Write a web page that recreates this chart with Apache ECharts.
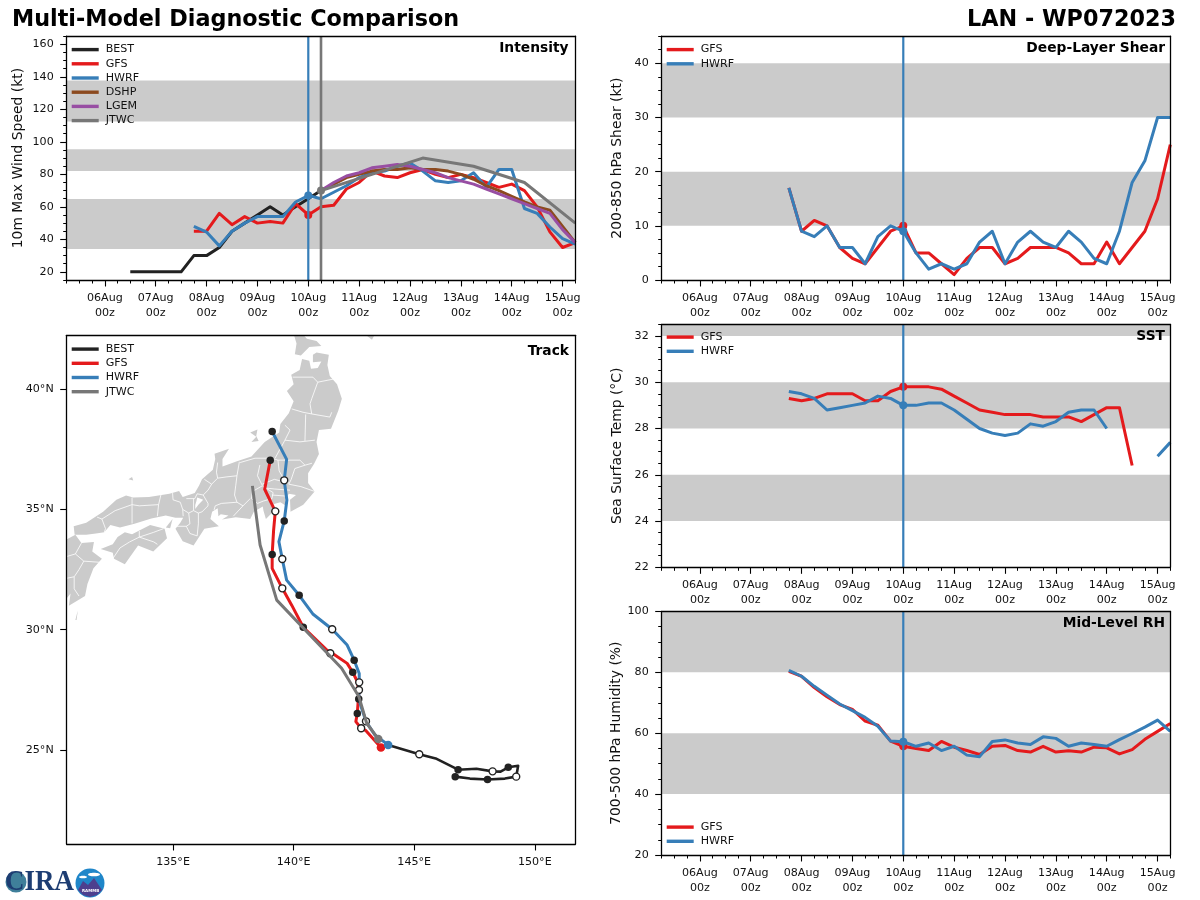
<!DOCTYPE html>
<html>
<head>
<meta charset="utf-8">
<title>Multi-Model Diagnostic Comparison</title>
<script src="https://cdn.jsdelivr.net/npm/echarts@6/dist/echarts.min.js"></script>
<style>
html,body{margin:0;padding:0;background:#fff;}
#main{width:1200px;height:900px;}
</style>
</head>
<body>
<div id="main"></div>
<script>
// hours are counted from 06Aug 00z
var dayTicks = [0,24,48,72,96,120,144,168,192,216];
var dayLabels = ['06Aug','07Aug','08Aug','09Aug','10Aug','11Aug','12Aug','13Aug','14Aug','15Aug'];
var xMin = -18, xMax = 222;
var quarterTicks = [-18,-12,-6,6,12,18,30,36,42,54,60,66,78,84,90,102,108,114,126,132,138,150,156,162,174,180,186,198,204,210,222];

var bestHours = [12,18,24,30,36,42,48,54,60,66,72,78,84,90,96,102];
var bestWind = [20,20,20,20,20,30,30,35,45,50,55,60,55,60,65,70];
// GFS and HWRF run from h42 every 6 hours
var modelHours = [42,48,54,60,66,72,78,84,90,96,102,108,114,120,126,132,138,144,150,156,162,168,174,180,186,192,198,204,210,216,222];
var gfsWind = [45,45,56,49,54,50,51,50,62,55,60,61,71,75,82,79,78,81,83,80,78,80,78,75,72,74,70,60,44.6,35,38];
var hwrfWind = [48,44.5,36,45,50,54,54,54,63,67,65,69,73,78,81,82,85,87,82,76,75,76,81,72,83,83,59,56,47.6,40.5,37];
var statHours = [102,108,114,120,126,132,138,144,150,156,162,168,174,180,186,192,198,204,210,216,222];
var dshpWind = [70,74,78,80,82,83,83,84,83,83,82,80,77,73,70,66.5,63,60,58,48,38];
var lgemWind = [70,75,79,81,84,85,86,85,83,81,78,76,74,71,68,65,62,59,56,46,38];
var jtwcHours = [102,126,150,174,198,222];
var jtwcWind = [70,80,90,85,75,50];

var gfsShear = [17,9,11,10,6,4,3,6,9,10,5,5,3,1,4,6,6,3,4,6,6,6,5,3,3,7,3,6,9,15,25];
var hwrfShear = [17,9,8,10,6,6,3,8,10,9,5,2,3,2,3,7,9,3,7,9,7,6,9,7,4,3,9,18,22,30,30];

var gfsSst = [29.3,29.2,29.3,29.5,29.5,29.5,29.2,29.2,29.6,29.8,29.8,29.8,29.7,29.4,29.1,28.8,28.7,28.6,28.6,28.6,28.5,28.5,28.5,28.3,28.6,28.9,28.9,26.4,null,null,null];
var hwrfSst = [29.6,29.5,29.3,28.8,28.9,29.0,29.1,29.4,29.3,29.0,29.0,29.1,29.1,28.8,28.4,28.0,27.8,27.7,27.8,28.2,28.1,28.3,28.7,28.8,28.8,28.0,null,null,null,26.8,27.4];

var gfsRh = [80.3,78.7,75,72,69.4,67.8,64,62.6,57.4,55.7,55,54.3,57.3,55.4,54.3,53,55.7,56,54.3,53.8,55.7,53.8,54.2,53.8,55.4,55.2,53.2,54.6,58,60.6,63.2];
var hwrfRh = [80.6,78.7,75.4,72.5,69.6,67.4,65.2,62.3,57.4,57.2,55.7,56.8,54.3,55.7,52.8,52.3,57.3,57.8,56.8,56.3,58.8,58.3,55.7,56.8,56.3,55.7,57.9,59.9,62,64.3,60.6];

var windBands = [[34,64.8],[82,95.5],[112.5,137.8]];
var shearBands = [[10,20],[30,40]];
var sstBands = [[24,26],[28,30],[32,34]];
var rhBands = [[40,60],[80,100]];

// tracks, [lon, lat]
var bestTrack = [[146.70,23.89],[147.31,23.81],[148.04,23.77],[148.76,23.81],[149.23,23.89],[149.31,24.34],[148.90,24.28],[148.58,24.10],[148.25,24.11],[147.58,24.22],[146.82,24.18],[145.93,24.63],[145.21,24.82],[143.92,25.21]];
var bestFilled = [[146.70,23.89],[148.04,23.77],[148.90,24.28],[146.82,24.18]];
var bestOpen = [[149.23,23.89],[148.25,24.11],[145.21,24.82]];
var gfsTrack = [[143.62,25.10],[143.0,25.80],[142.80,25.90],[142.58,26.18],[142.64,26.52],[142.71,27.49],[142.61,27.91],[142.45,28.23],[142.22,28.60],[141.71,28.95],[141.52,29.02],[140.40,30.10],[139.92,31.02],[139.53,31.72],[139.11,32.55],[139.11,33.13],[139.17,34.14],[139.24,34.92],[138.80,35.84],[139.03,37.04]];
var gfsFilled = [[142.64,26.52],[142.45,28.23],[140.40,30.10],[139.11,33.13],[139.03,37.04]];
var gfsOpen = [[142.80,25.90],[142.71,27.49],[141.52,29.02],[139.53,31.72],[139.24,34.92]];
var hwrfTrack = [[143.92,25.21],[143.37,25.62],[143.0,26.19],[142.82,26.73],[142.70,27.12],[142.72,27.81],[142.72,28.18],[142.51,28.73],[142.22,29.36],[141.60,30.02],[140.81,30.64],[140.23,31.43],[139.71,32.06],[139.53,32.94],[139.39,33.66],[139.61,34.52],[139.72,35.39],[139.61,36.21],[139.71,37.08],[139.11,38.24]];
var hwrfFilled = [[142.70,27.12],[142.51,28.73],[140.23,31.43],[139.61,34.52],[139.11,38.24]];
var hwrfOpen = [[143.0,26.19],[142.72,27.81],[141.60,30.02],[139.53,32.94],[139.61,36.21]];
var jtwcTrack = [[143.51,25.46],[143.03,26.11],[142.71,27.21],[141.99,28.40],[139.30,31.23],[138.61,33.52],[138.29,35.98]];

// land, [lon, lat]
var honshu = [[139.9,40.6],[140.25,40.8],[140.35,41.25],[140.65,41.18],[140.72,40.85],[141.0,40.88],[141.15,41.15],[140.8,41.12],[140.8,41.43],[140.95,41.52],[141.46,41.43],[141.4,41.0],[141.5,40.55],[141.8,40.2],[142.0,39.6],[141.85,39.1],[141.55,38.35],[141.05,38.3],[140.95,37.8],[141.05,37.3],[140.85,36.9],[140.6,36.5],[140.6,36.1],[140.87,35.75],[140.4,35.2],[139.87,34.9],[139.85,35.4],[140.1,35.6],[139.8,35.65],[139.65,35.4],[139.68,35.15],[139.45,35.3],[139.15,35.22],[139.15,34.9],[138.85,34.6],[138.75,34.95],[138.72,35.12],[138.35,34.9],[138.2,34.6],[137.6,34.67],[137.03,34.58],[137.3,34.75],[136.98,34.8],[136.88,34.72],[136.85,35.05],[136.62,34.9],[136.55,34.6],[136.9,34.3],[136.3,34.2],[135.85,33.5],[135.4,33.68],[135.1,34.2],[135.3,34.45],[135.42,34.65],[135.1,34.65],[134.7,34.75],[134.1,34.62],[133.4,34.4],[132.8,34.25],[132.4,34.35],[132.15,34.05],[131.8,34.0],[131.4,33.95],[130.92,33.95],[130.88,34.3],[131.4,34.45],[132.1,34.9],[132.65,35.4],[133.05,35.58],[133.35,35.5],[134.0,35.52],[134.85,35.65],[135.25,35.77],[135.4,35.52],[135.9,35.68],[136.08,36.0],[136.2,36.25],[136.65,36.65],[136.75,37.1],[136.72,37.32],[137.32,37.52],[137.05,37.1],[137.05,36.78],[137.65,37.0],[138.25,37.2],[138.8,37.8],[139.4,38.2],[139.45,38.55],[139.8,39.0],[140.0,39.5],[139.72,39.92],[140.0,40.2]];
var hokkaido = [[139.7,42.7],[140.0,42.3],[140.12,41.9],[140.05,41.45],[140.3,41.4],[140.65,41.75],[141.15,41.8],[140.95,42.0],[140.55,42.1],[140.32,42.35],[140.4,42.7]];
var erimo = [[142.75,42.45],[143.25,42.05],[143.45,42.45]];
var sado = [[138.2,38.2],[138.5,38.32],[138.45,38.05],[138.55,37.85],[138.25,37.8],[138.45,38.02]];
var oki = [[133.15,36.25],[133.3,36.35],[133.35,36.2]];
var shikoku = [[134.05,34.35],[134.65,34.2],[134.75,33.8],[134.18,33.25],[133.55,33.5],[133.0,32.72],[132.55,32.95],[132.5,33.2],[132.0,33.35],[132.5,33.55],[132.7,33.85],[133.0,34.05],[133.3,33.97],[133.6,34.12]];
var kyushu = [[130.95,33.95],[131.2,33.6],[131.72,33.65],[131.65,33.25],[132.05,32.95],[131.7,32.55],[131.45,31.9],[131.35,31.4],[130.68,31.0],[130.75,31.5],[130.55,31.25],[130.3,31.3],[130.2,31.9],[130.1,32.7],[129.8,33.3],[130.4,33.65]];
var tanegashima = [[130.95,30.4],[131.05,30.8],[131.0,30.4]];
var awaji = [[134.98,34.6],[134.7,34.25],[134.88,34.22]];
var landShapes = [honshu,hokkaido,erimo,sado,oki,shikoku,kyushu,tanegashima,awaji];
var lakeBiwa = [[136.0,35.5],[136.25,35.4],[136.05,35.2],[135.92,35.02],[135.92,35.18],[135.97,35.35]];
var prefBorders = [
	[[139.96,40.5],[140.8,40.5],[141.0,40.29],[141.7,40.43]],
	[[141.0,40.29],[140.75,39.6],[140.68,39.39],[140.75,38.97]],
	[[139.92,39.18],[140.39,39.04],[140.75,38.97],[141.5,38.84],[141.58,39.04]],
	[[140.5,38.95],[140.47,37.85]],
	[[139.64,38.5],[139.85,38.3],[139.64,37.88],[140.26,37.81],[140.88,37.88]],
	[[139.64,37.88],[139.23,37.13]],
	[[139.35,37.05],[140.26,37.05],[140.47,36.84],[140.76,36.92]],
	[[137.78,36.95],[138.4,37.13],[139.1,37.13],[139.35,37.05]],
	[[140.47,36.84],[140.05,36.7],[139.9,36.25],[139.8,36.05]],
	[[139.35,37.05],[139.4,36.6],[139.6,36.25]],
	[[138.6,36.85],[138.5,36.4],[138.7,36.0]],
	[[138.7,36.05],[139.2,36.25],[139.8,36.1]],
	[[138.75,35.9],[139.2,35.85],[139.85,35.8]],
	[[139.1,35.6],[139.75,35.55]],
	[[139.8,36.05],[140.3,35.95],[140.87,35.75]],
	[[138.7,35.98],[139.15,35.7],[139.1,35.45],[138.75,35.35],[138.5,35.25],[138.25,35.45],[138.3,35.75],[138.7,35.98]],
	[[139.15,35.22],[139.05,35.42]],
	[[137.75,36.98],[137.65,36.4],[137.6,36.0],[137.55,35.6],[137.65,35.3],[137.9,35.15],[138.2,35.45]],
	[[137.9,35.15],[137.5,34.72]],
	[[137.65,35.3],[137.0,35.25],[136.75,35.15],[136.7,34.98]],
	[[137.65,36.4],[137.2,36.35],[136.85,36.3],[136.8,36.55],[136.85,36.95]],
	[[136.3,36.25],[136.6,36.05],[136.85,36.3]],
	[[136.6,36.05],[136.45,35.8],[136.25,35.6],[136.45,35.25],[136.45,35.15],[136.2,34.9],[136.05,34.85],[136.05,34.4],[136.0,33.9],[135.7,34.0],[135.55,34.3],[135.1,34.3]],
	[[136.25,35.6],[136.0,35.65],[135.9,35.45],[135.55,35.45]],
	[[135.85,35.45],[135.85,34.95],[136.05,34.85]],
	[[135.85,34.95],[135.65,34.85],[135.7,34.4],[135.55,34.3]],
	[[135.65,34.85],[135.4,35.0],[135.42,34.72]],
	[[135.4,35.0],[135.3,35.3],[135.0,35.4],[134.98,35.68]],
	[[134.35,34.72],[134.4,35.2],[134.5,35.62]],
	[[134.4,35.2],[133.6,35.15],[133.3,35.2],[133.3,35.5]],
	[[133.3,35.2],[133.3,34.42]],
	[[133.3,35.2],[132.6,34.95],[132.05,34.6],[131.85,34.68]],
	[[132.05,34.6],[132.2,34.2],[132.15,34.05]],
	[[132.5,32.95],[132.8,33.4],[133.2,33.65],[133.6,33.85],[134.2,33.65],[134.35,33.55]],
	[[133.6,34.1],[133.6,33.85],[134.2,34.05],[134.6,34.2]],
	[[131.2,33.6],[130.95,33.15],[130.45,33.0]],
	[[130.95,33.15],[131.3,32.85],[132.0,32.8]],
	[[131.3,32.85],[131.1,32.5],[130.9,32.2],[130.4,32.1]],
	[[130.9,32.2],[130.9,31.7],[131.1,31.4]]
];

var colors = {BEST:'#222222',GFS:'#e41a1c',HWRF:'#377eb8',DSHP:'#8c4a1f',LGEM:'#984ea3',JTWC:'#777777'};
var fontName = '"DejaVu Sans"';
var tickFont = 11.1;

var option = {
	animation:false,
	backgroundColor:'#fff',
	textStyle:{fontFamily:fontName},
	title:[],legend:[],grid:[],xAxis:[],yAxis:[],series:[],
	graphic:[]
};

function lineAxisBase(extra){
	var a = {
		min:0,max:1,type:'value',
		splitLine:{show:false},
		axisLine:{show:false,onZero:false},
		axisTick:{show:false},
		axisLabel:{show:false},
		z:10
	};
	for(var k in extra){a[k]=extra[k];}
	return a;
}

// adds a grid with labelled axis, minor tick axis and closing line axis on each direction
function addPanel(box,xr,yr,xMajor,xMinor,yMajor,yMinor,xFmt,yFmt,yName,nameGap){
	var g = option.grid.length;
	option.grid.push({left:box[0],top:box[1],width:box[2],height:box[3]});
	option.xAxis.push(lineAxisBase({gridIndex:g,min:xr[0],max:xr[1],position:'bottom',
		axisLine:{show:true,onZero:false,lineStyle:{color:'#000',width:1.3}},
		axisTick:{show:true,length:6.5,lineStyle:{color:'#000',width:1.1},customValues:xMajor},
		axisLabel:{show:true,margin:10.5,fontSize:tickFont,color:'#111',lineHeight:15,fontFamily:fontName,customValues:xMajor,formatter:xFmt}}));
	option.xAxis.push(lineAxisBase({gridIndex:g,min:xr[0],max:xr[1],position:'bottom',
		axisTick:{show:xMinor.length>0,length:3.5,lineStyle:{color:'#000',width:1},customValues:xMinor}}));
	option.xAxis.push(lineAxisBase({gridIndex:g,min:xr[0],max:xr[1],position:'top',
		axisLine:{show:true,onZero:false,lineStyle:{color:'#000',width:1.3}}}));
	option.yAxis.push(lineAxisBase({gridIndex:g,min:yr[0],max:yr[1],position:'left',
		name:yName,nameLocation:'middle',nameGap:nameGap,nameRotate:90,
		nameTextStyle:{fontSize:13.9,color:'#111',fontFamily:fontName},
		axisLine:{show:true,onZero:false,lineStyle:{color:'#000',width:1.3}},
		axisTick:{show:true,length:6.5,lineStyle:{color:'#000',width:1.1},customValues:yMajor},
		axisLabel:{show:true,margin:13,fontSize:tickFont,color:'#111',fontFamily:fontName,customValues:yMajor,formatter:yFmt}}));
	option.yAxis.push(lineAxisBase({gridIndex:g,min:yr[0],max:yr[1],position:'left',
		axisTick:{show:yMinor.length>0,length:3.5,lineStyle:{color:'#000',width:1},customValues:yMinor}}));
	option.yAxis.push(lineAxisBase({gridIndex:g,min:yr[0],max:yr[1],position:'right',
		axisLine:{show:true,onZero:false,lineStyle:{color:'#000',width:1.3}}}));
	return g*3;
}

function pairs(hours,vals){
	return hours.map(function(h,i){return [h,vals[i]];});
}

function addLine(ax,name,data,width,z){
	option.series.push({
		name:name,type:'line',xAxisIndex:ax,yAxisIndex:ax,data:data,
		symbol:'none',showSymbol:false,connectNulls:false,z:z||3,silent:true,
		color:colors[name],itemStyle:{color:colors[name]},
		lineStyle:{color:colors[name],width:width||3,cap:'butt',join:'round'}
	});
}

function addDots(ax,data,size,fill,edge,z){
	option.series.push({
		type:'scatter',xAxisIndex:ax,yAxisIndex:ax,data:data,symbolSize:size,z:z||4,silent:true,
		itemStyle:{color:fill,borderColor:edge||fill,borderWidth:edge?1.4:0,opacity:1}
	});
}

function addBands(ax,bands){
	option.series.push({
		type:'line',xAxisIndex:ax,yAxisIndex:ax,data:[],z:1,silent:true,
		markArea:{silent:true,itemStyle:{color:'#cbcbcb'},
			data:bands.map(function(b){return [{yAxis:b[0]},{yAxis:b[1]}];})}
	});
}

function addLegend(names,left,top){
	option.legend.push({
		data:names,left:left,top:top,orient:'vertical',padding:0,itemGap:0,
		itemWidth:27,itemHeight:3.4,icon:'rect',selectedMode:false,
		textStyle:{fontSize:11.1,color:'#111',lineHeight:14.2,padding:[0,0,0,2],fontFamily:fontName}
	});
}

function addLabel(text,right,top){
	option.title.push({text:text,right:right,top:top,padding:0,
		textStyle:{fontSize:13.8,fontWeight:'bold',color:'#000',fontFamily:fontName}});
}

function timeFmt(v){
	return dayLabels[dayTicks.indexOf(v)]+'\n00z';
}
function plainFmt(v){return ''+v;}
function minorFrom(lo,hi,step,major){
	var out = [];
	for(var i=0;lo+i*step<=hi;i++){
		var v = lo+i*step;
		if(major.indexOf(v)<0){out.push(v);}
	}
	return out;
}

// Intensity
var ax = addPanel([66.7,36.2,508.6,243.8],[xMin,xMax],[15,165],dayTicks,quarterTicks,
	[20,40,60,80,100,120,140,160],minorFrom(15,165,5,[20,40,60,80,100,120,140,160]),timeFmt,plainFmt,'10m Max Wind Speed (kt)',41);
addBands(ax,windBands);
addLine(ax,'BEST',pairs(bestHours,bestWind));
addLine(ax,'GFS',pairs(modelHours,gfsWind));
addLine(ax,'HWRF',pairs(modelHours,hwrfWind));
addLine(ax,'DSHP',pairs(statHours,dshpWind));
addLine(ax,'LGEM',pairs(statHours,lgemWind));
addLine(ax,'JTWC',pairs(jtwcHours,jtwcWind));
addDots(ax,[[96,55]],8,colors.GFS,null,2.5);
addLine(ax,'HWRF',[[96,15],[96,165]],2.2);
addLine(ax,'JTWC',[[102,15],[102,165]],2.6);
addDots(ax,[[96,67]],8,colors.HWRF);
addDots(ax,[[102,70]],8,colors.JTWC);
addLegend(['BEST','GFS','HWRF','DSHP','LGEM','JTWC'],71.7,42.5);
addLabel('Intensity',631.5,41);

// Track
ax = addPanel([66.7,335.3,508.6,508.7],[130.59,151.68],[21.09,42.24],[135,140,145,150],[],[25,30,35,40],[],
	function(v){return v+'°E';},function(v){return v+'°N';},'',0);
option.series.push({
	type:'custom',xAxisIndex:ax,yAxisIndex:ax,clip:true,z:1,silent:true,
	data:landShapes.map(function(s,i){return [s[0][0],s[0][1],i];}),
	renderItem:function(params,api){
		return {type:'polygon',shape:{points:landShapes[api.value(2)].map(function(p){return api.coord(p);})},
			style:{fill:'#cbcbcb',stroke:null}};
	}
});
option.series.push({
	type:'custom',xAxisIndex:ax,yAxisIndex:ax,clip:true,z:2,silent:true,
	data:[[lakeBiwa[0][0],lakeBiwa[0][1],0]],
	renderItem:function(params,api){
		return {type:'polygon',shape:{points:lakeBiwa.map(function(p){return api.coord(p);})},style:{fill:'#fff'}};
	}
});
option.series.push({
	type:'custom',xAxisIndex:ax,yAxisIndex:ax,clip:true,z:2,silent:true,
	data:prefBorders.map(function(s,i){return [s[0][0],s[0][1],i];}),
	renderItem:function(params,api){
		return {type:'polyline',shape:{points:prefBorders[api.value(2)].map(function(p){return api.coord(p);})},
			style:{fill:null,stroke:'#fff',lineWidth:0.8}};
	}
});
addLine(ax,'BEST',bestTrack,2.6,3);
addDots(ax,bestFilled,7.5,colors.BEST,null,3);
addDots(ax,bestOpen,7,'#fff',colors.BEST,3);
addLine(ax,'GFS',gfsTrack,3,3);
addDots(ax,gfsFilled,7.5,colors.BEST,null,3);
addDots(ax,gfsOpen,7,'#fff',colors.BEST,3);
addLine(ax,'HWRF',hwrfTrack,3,3);
addDots(ax,hwrfFilled,7.5,colors.BEST,null,3);
addDots(ax,hwrfOpen,7,'#fff',colors.BEST,3);
addLine(ax,'JTWC',jtwcTrack,3,4);
addDots(ax,[gfsTrack[0]],8.5,colors.GFS,null,5);
addDots(ax,[hwrfTrack[0]],8.5,colors.HWRF,null,5);
addDots(ax,[jtwcTrack[0]],8.5,colors.JTWC,null,5);
addLegend(['BEST','GFS','HWRF','JTWC'],71.7,342);
addLabel('Track',631,344);

// Deep-layer shear
ax = addPanel([661.7,36.2,508.6,243.8],[xMin,xMax],[0,45],dayTicks,quarterTicks,
	[0,10,20,30,40],minorFrom(0,45,2.5,[0,10,20,30,40]),timeFmt,plainFmt,'200-850 hPa Shear (kt)',37);
addBands(ax,shearBands);
addLine(ax,'GFS',pairs(modelHours,gfsShear));
addLine(ax,'HWRF',pairs(modelHours,hwrfShear));
addDots(ax,[[96,10]],8,colors.GFS,null,2.5);
addLine(ax,'HWRF',[[96,0],[96,45]],2.2);
addDots(ax,[[96,9]],8,colors.HWRF);
addLegend(['GFS','HWRF'],666.7,42.5);
addLabel('Deep-Layer Shear',35,41);

// SST
ax = addPanel([661.7,324.4,508.6,242.9],[xMin,xMax],[22,32.5],dayTicks,quarterTicks,
	[22,24,26,28,30,32],minorFrom(22,32.5,0.5,[22,24,26,28,30,32]),timeFmt,plainFmt,'Sea Surface Temp (°C)',37);
addBands(ax,sstBands);
addLine(ax,'GFS',pairs(modelHours,gfsSst));
addLine(ax,'HWRF',pairs(modelHours,hwrfSst));
addDots(ax,[[96,29.8]],8,colors.GFS,null,2.5);
addLine(ax,'HWRF',[[96,22],[96,32.5]],2.2);
addDots(ax,[[96,29]],8,colors.HWRF);
addLegend(['GFS','HWRF'],666.7,330);
addLabel('SST',35,329);

// Mid-level RH
ax = addPanel([661.7,611.4,508.6,243.6],[xMin,xMax],[20,100],dayTicks,quarterTicks,
	[20,40,60,80,100],minorFrom(20,100,5,[20,40,60,80,100]),timeFmt,plainFmt,'700-500 hPa Humidity (%)',37);
addBands(ax,rhBands);
addLine(ax,'GFS',pairs(modelHours,gfsRh));
addLine(ax,'HWRF',pairs(modelHours,hwrfRh));
addDots(ax,[[96,55.7]],8,colors.GFS,null,2.5);
addLine(ax,'HWRF',[[96,20],[96,100]],2.2);
addDots(ax,[[96,57.2]],8,colors.HWRF);
addLegend(['GFS','HWRF'],666.7,820);
addLabel('Mid-Level RH',35,616);

// figure headings
option.title.push({text:'Multi-Model Diagnostic Comparison',left:12,top:9.5,padding:0,
	textStyle:{fontSize:22.3,fontWeight:'bold',color:'#000',fontFamily:fontName}});
option.title.push({text:'LAN - WP072023',right:24,top:9.5,padding:0,
	textStyle:{fontSize:22.3,fontWeight:'bold',color:'#000',fontFamily:fontName}});

// CIRA logo
option.graphic = [
	{type:'circle',shape:{cx:16,cy:882,r:10.5},style:{fill:'#3f7f9a',stroke:null},z:5},
	{type:'text',left:5,top:867,scaleY:1.12,z:6,
		style:{text:'CIRA',fontFamily:'"Liberation Serif"',fontWeight:'bold',fontSize:27,fill:'#1d3d72'}},
	{type:'circle',shape:{cx:90,cy:883,r:14.5},style:{fill:'#1f86c9'},z:5},
	{type:'polygon',shape:{points:[[78,890],[83,881],[88,885],[94,878],[102,890],[97,895],[90,897],[83,895]]},style:{fill:'#4d3f8e'},z:6},
	{type:'ellipse',shape:{cx:94,cy:874.5,rx:6,ry:1.8},style:{fill:'#fff'},z:6},
	{type:'ellipse',shape:{cx:83,cy:877,rx:4,ry:1.3},style:{fill:'#fff'},z:6},
	{type:'text',left:82,top:889,z:7,style:{text:'RAMMB',fontFamily:fontName,fontSize:4,fontWeight:'bold',fill:'#fff'}}
];

var chart = echarts.init(document.getElementById('main'),null,{renderer:'canvas'});
chart.setOption(option);
</script>
</body>
</html>
